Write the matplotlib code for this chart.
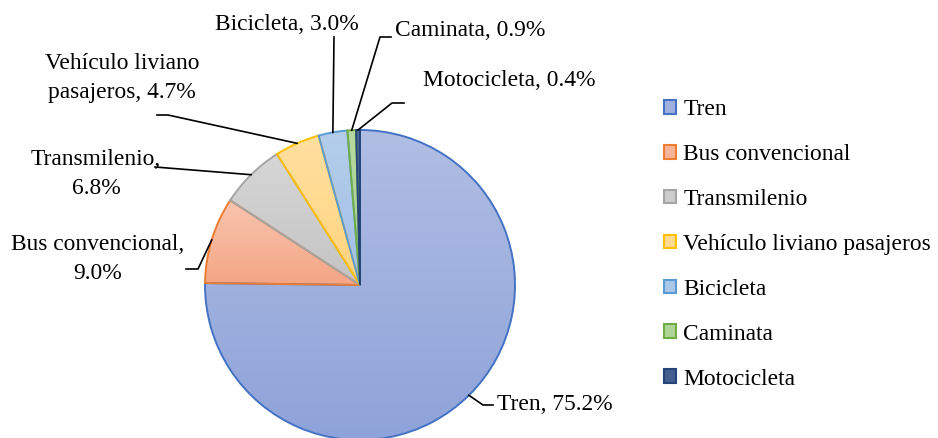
import numpy as np
import matplotlib
matplotlib.use('Agg')
import matplotlib.pyplot as plt
from matplotlib.colors import to_rgb
from matplotlib.patches import Patch

plt.rcParams['font.family'] = ['Liberation Serif', 'DejaVu Serif']

modos = ['Tren', 'Bus convencional', 'Transmilenio', 'Vehículo liviano pasajeros',
         'Bicicleta', 'Caminata', 'Motocicleta']
porcentajes = [75.2, 9.0, 6.8, 4.7, 3.0, 0.9, 0.4]
etiquetas = ['Tren, 75.2%', 'Bus convencional,\n9.0%', 'Transmilenio,\n6.8%',
             'Vehículo liviano\npasajeros, 4.7%', 'Bicicleta, 3.0%',
             'Caminata, 0.9%', 'Motocicleta, 0.4%']

# gradient colours (top, bottom) and outline per slice
claro = ['#B1BEE4', '#F8C5AF', '#D6D6D6', '#FFE0A0', '#B4CDEB', '#B6D9A0', '#4D6796']
oscuro = ['#8EA3D9', '#F4A584', '#C4C4C4', '#FFD47F', '#A2C0E6', '#A6CF8C', '#3A5585']
borde = ['#4472C4', '#ED7D31', '#A5A5A5', '#FFC000', '#5B9BD5', '#70AD47', '#264478']

W, H = 938, 438
fig = plt.figure(figsize=(W / 100, H / 100), dpi=100)
ax = fig.add_axes([0, 0, 1, 1])

cx, cy, r = 360, H - 285, 155
fs = 16.9

wedges, _ = ax.pie(porcentajes, startangle=90, counterclock=False,
                   center=(cx, cy), radius=r,
                   wedgeprops=dict(linewidth=1.4))

for w, c1, c2, ec in zip(wedges, claro, oscuro, borde):
    w.set_facecolor('none')
    w.set_edgecolor(ec)
    w.set_zorder(3)
    bb = w.get_path().get_extents()
    t = np.linspace(0, 1, 256)[:, None, None]
    grad = (1 - t) * np.array(to_rgb(c1)) + t * np.array(to_rgb(c2))
    im = ax.imshow(grad, extent=(bb.x0, bb.x1, bb.y0, bb.y1), origin='upper',
                   interpolation='bilinear', aspect='auto', zorder=2)
    im.set_clip_path(w)

# label placement (pixel coordinates, y from top) and leader elbows
pos_texto = [(497, 404, 'left'), (98, 259, 'center'), (96, 174, 'center'),
             (122, 78, 'center'), (287, 25, 'center'), (395, 30, 'left'),
             (423, 80, 'left')]
codos = [[(483, 405), (493, 405)],
         [(198, 269), (186, 269)],
         [(155, 167)],
         [(168, 115), (157, 115)],
         [(334, 37)],
         [(380, 37), (391, 37)],
         [(392, 103), (404, 103)]]

for w, lab, (tx, ty, ha), pts in zip(wedges, etiquetas, pos_texto, codos):
    ang = np.deg2rad((w.theta1 + w.theta2) / 2)
    x0, y0 = cx + r * np.cos(ang), cy + r * np.sin(ang)
    xs = [x0] + [p[0] for p in pts]
    ys = [y0] + [H - p[1] for p in pts]
    ax.plot(xs, ys, color='black', lw=1.2, zorder=4)
    ax.text(tx, H - ty, lab, ha=ha, va='center', fontsize=fs,
            multialignment='center', linespacing=1.45, zorder=5)

handles = [Patch(facecolor=(np.array(to_rgb(a)) + np.array(to_rgb(b))) / 2,
                 edgecolor=e, linewidth=1.5)
           for a, b, e in zip(claro, oscuro, borde)]
ax.legend(handles, modos, loc='upper left', bbox_to_anchor=(664, H - 99),
          bbox_transform=ax.transData, frameon=False, fontsize=fs,
          handlelength=0.53, handleheight=0.53, handletextpad=0.3,
          labelspacing=1.02, borderpad=0, borderaxespad=0)

ax.set_xlim(0, W)
ax.set_ylim(0, H)
ax.set_aspect('equal')
ax.axis('off')

fig.savefig('out.png', dpi=100)
